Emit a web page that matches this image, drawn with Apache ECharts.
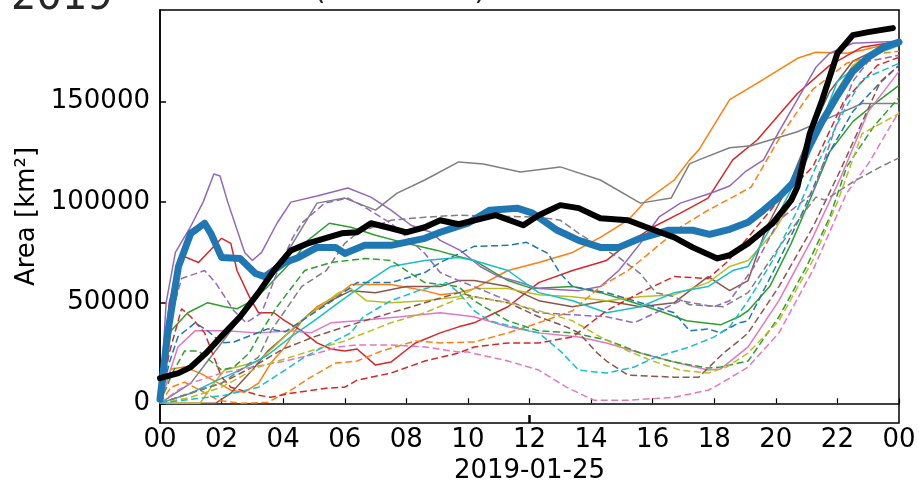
<!DOCTYPE html>
<html>
<head>
<meta charset="utf-8">
<script src="https://cdn.jsdelivr.net/npm/echarts@6/dist/echarts.min.js"></script>
<style>
html,body{margin:0;padding:0;background:#fff;}
#chart{width:919px;height:481px;}
</style>
</head>
<body>
<div id="chart"></div>
<script>
// ---- tick labels / axis ----
const yTickValues = [0, 50000, 100000, 150000];
const xTickHours = [0, 2, 4, 6, 8, 10, 12, 14, 16, 18, 20, 22, 24];
const xAxisDate = '2019-01-25';
const yAxisName = 'Area [km²]';
const titleYear = '2019';
const titleRest = '(Total Area)';

// ---- thick lines: [hour, area km2] ----
const blackThick = [[0,12500],[0.6,15000],[1,18000],[1.5,25000],[2.1,35000],[2.6,43000],[3.2,55000],[3.7,66000],[4.25,76000],[4.8,79500],[5.9,84500],[6.4,85000],[6.85,89500],[7.5,87000],[8,85000],[8.6,87500],[9.1,91000],[9.7,89000],[10.9,93500],[11.8,88500],[12.3,93500],[13,98500],[13.6,97000],[14.3,92000],[15.2,91000],[15.8,87500],[16.7,82500],[17.3,77500],[18.1,72000],[18.5,73600],[19.1,79500],[19.9,89500],[20.5,101000],[20.7,107500],[21.1,134000],[21.5,150500],[22,174000],[22.5,183000],[23,184500],[23.8,186500]];
const blueThick = [[0,2000],[0.25,35000],[0.6,68000],[1,84500],[1.45,89500],[1.65,84500],[2,72500],[2.6,72000],[3.1,64500],[3.4,63000],[4.06,70000],[4.5,72500],[5.1,77500],[5.7,77500],[6,74500],[6.65,78500],[7.5,78500],[8.6,82000],[9.1,85000],[10,89500],[10.7,96000],[11.6,97000],[12.1,94500],[12.9,86000],[13.6,81000],[14.3,77500],[14.9,77500],[15.6,82000],[16.5,86000],[17.3,86000],[17.85,84000],[18.5,86500],[19.1,90000],[19.6,96000],[20.1,102500],[20.55,109500],[21,125000],[21.5,140000],[22,153000],[22.5,165000],[23,172000],[23.5,177000],[24,179500]];

// ---- ensemble members, solid ----
const orangeSolid = [[0,0],[0.36,17000],[0.8,18000],[1.3,15000],[1.9,10000],[2.3,6500],[2.75,5500],[3.2,10000],[3.6,20000],[4.06,28000],[4.6,41000],[5.1,48000],[5.8,54000],[6.2,59000],[7.5,59000],[8.6,56000],[9.1,54000],[9.7,55000],[10.2,57000],[11.3,66000],[12.3,70000],[13.4,75000],[14.3,82500],[15.2,91000],[15.8,101000],[16.7,111000],[17.2,121000],[17.5,126000],[18.5,151000],[19.6,161000],[20.7,171500],[21.3,174500],[22.3,174000],[22.8,175500],[24,180000]];
const greenSolid = [[0,0],[0.36,36000],[0.9,45000],[1.55,50000],[2.1,48000],[2.5,47000],[3,51000],[3.5,58000],[4.4,72500],[4.8,81000],[5.5,89500],[6.2,87500],[7,83500],[8,79500],[9,76000],[9.7,73000],[10.2,71000],[11.3,61000],[12.1,57000],[13.4,58000],[14.3,55000],[15.2,51000],[16.2,46000],[17.1,41000],[18.2,39000],[18.8,43000],[19.1,46000],[19.8,58000],[20.5,79500],[21.2,104500],[21.75,125000],[22.5,140000],[23.3,150000],[24,158000]];
const redSolid = [[0,0],[0.3,50000],[0.7,73500],[1.25,70000],[2,82000],[2.3,79500],[2.5,66000],[2.9,53000],[3.2,45000],[3.7,45000],[4.06,41000],[4.6,36000],[5.1,30000],[5.55,27000],[6,26000],[6.4,27000],[7,19000],[7.5,20500],[8,26500],[8.3,30000],[9.1,35000],[9.7,38000],[10.2,40000],[11.3,48000],[12.3,60000],[13.4,66000],[14.5,71000],[15.2,79500],[16,87500],[16.9,94500],[17.8,102000],[18.6,121000],[19.4,131000],[20.7,154000],[21.75,168000],[22.8,177000],[24,180000]];
const purpleSolid = [[0,0],[0.2,50000],[0.5,75000],[1,88000],[1.4,100000],[1.75,114000],[1.95,113000],[2.2,100000],[2.75,75000],[3,71000],[3.3,75000],[3.8,89500],[4.25,100000],[5.1,103000],[6.1,107000],[6.85,102500],[7.5,96000],[8.15,88500],[8.8,85000],[9.1,81000],[9.75,76000],[10.4,68000],[11,63000],[11.7,60000],[12.3,57000],[13.6,56000],[14.3,58000],[14.9,66000],[15.6,79500],[16.2,92500],[16.9,99500],[17.9,104500],[18.5,108000],[19,115000],[19.6,121000],[20.1,135000],[20.7,151000],[21.3,167000],[21.75,174000],[22.5,179000],[24,180000]];
const brownSolid = [[0,0],[1.8,0],[2.3,5000],[3,16500],[3.5,26000],[4.25,36000],[4.9,45000],[5.55,51000],[6.2,56000],[7,55000],[8,58000],[9.1,58000],[9.7,61000],[10.2,61000],[11.3,58000],[12.3,51000],[13.4,48000],[14.5,51000],[15.6,48000],[16.7,50000],[17.8,63000],[18.5,56000],[19.1,61000],[19.7,87500],[20.5,111000],[21,130000],[21.75,155000],[22.5,170000],[23.3,176000],[24,178000]];
const pinkSolid = [[0,0],[0.58,28000],[1.14,36000],[2.1,36000],[3.2,35000],[4.25,36000],[4.9,35000],[5.55,40000],[6.4,41000],[7.8,43000],[9.1,45000],[10.2,43000],[11.3,38000],[12.3,35000],[13.6,33000],[14.5,30000],[15.6,25000],[16.7,20500],[17.8,16500],[18.2,17000],[19.1,28000],[20.1,51000],[21.2,82500],[22.1,112000],[23,145000],[24,165000]];
const graySolid = [[0,0],[1,10000],[1.5,20000],[2,30000],[2.5,40000],[3,50000],[3.5,63000],[4.25,78000],[5.1,99500],[6,102000],[7,96000],[7.7,104500],[8.6,111000],[9.7,120000],[10.5,119000],[11.7,115000],[13,117500],[14.3,111000],[15.6,99500],[16.6,102000],[17.2,119000],[17.5,121000],[18.5,127000],[19.2,128000],[20.7,135000],[21.75,142000],[22.8,149000],[24,149000]];
const oliveSolid = [[0,0],[1.3,0],[1.8,11000],[2.1,16500],[2.5,18000],[3.2,21000],[3.7,28000],[4.5,40000],[5.8,55000],[6.2,57000],[6.7,51000],[7.5,50000],[8.6,51000],[9.7,53000],[10.2,57000],[11.3,57000],[12.3,54000],[13.4,53000],[14.5,51000],[15.6,53000],[16.7,54000],[17.8,60000],[18.5,68000],[19.1,71000],[19.9,84500],[20.5,99500],[21,121000],[21.75,150000],[22.5,168000],[23.3,176000],[24,179000]];
const cyanSolid = [[0,0],[0.3,1500],[1,5000],[1.8,11000],[2.6,16500],[3.5,24000],[4.25,33000],[5,41000],[5.8,50000],[6.7,60000],[7.5,68000],[8.6,71000],[9.7,72500],[10.2,71000],[11.3,66000],[12.3,55000],[13.4,51000],[14.5,45000],[15.6,48000],[16.7,55000],[17.8,58000],[18.6,66000],[19.1,68000],[20.1,94500],[21,121000],[22,160000],[23,172000],[24,178000]];

// ---- ensemble members, dashed ----
const blueDashed = [[0,0],[0.3,20000],[0.58,33000],[1.14,40000],[1.55,36000],[2,30000],[2.4,30500],[3,34000],[3.5,37000],[4.06,35500],[4.5,40000],[5.6,51000],[6.4,60000],[7.5,60000],[8.6,65000],[9.1,70000],[10.2,78000],[11.3,78500],[11.9,80000],[12.6,74500],[13,64500],[13.4,58000],[14.5,55000],[15.6,50000],[16.7,45000],[17.2,36000],[17.8,37000],[18.2,35000],[18.8,40000],[19.1,41000],[20.1,71000],[20.9,96000],[21.6,121000],[22.5,145000],[23.3,158000],[24,168000]];
const orangeDashed = [[0,0],[0.36,8000],[0.8,10500],[1.3,6500],[1.9,1500],[2.6,0],[3.5,500],[4.25,6500],[4.9,13000],[5.7,20000],[6.4,21000],[7.2,26000],[8.3,31000],[9.1,30000],[10.2,30500],[11.3,35000],[12.3,40000],[13.4,46000],[14.3,58000],[15.2,66000],[16,76000],[16.9,87500],[17.8,96000],[18.6,102500],[19.2,107500],[20.2,134000],[21.2,156000],[22.3,169000],[23.4,174000],[24,175000]];
const greenDashed = [[0,0],[0.4,15000],[0.8,26000],[1.25,26000],[2,16500],[2.4,18000],[2.9,25000],[3.3,36000],[3.8,48000],[4.4,60000],[4.7,66000],[5.55,70000],[6.65,72000],[7.5,71000],[8,66000],[8.6,60000],[9.7,58000],[10.2,51000],[11.3,41000],[12.3,36000],[13.4,35000],[14.5,31500],[15.6,25000],[16.7,20500],[17.8,17500],[18.2,18000],[19.1,21000],[20.1,43000],[21,68000],[21.75,92500],[22.3,117500],[23.2,138000],[24,152000]];
const redDashed = [[0,0],[0.3,25000],[0.7,47000],[1,43000],[1.45,35000],[1.8,21000],[2,13000],[2.3,8000],[3.2,4000],[3.6,3000],[4.25,5000],[5.4,7500],[6,8000],[6.4,11500],[7.5,15000],[8.6,21000],[9.7,25000],[10.2,28000],[11.3,30000],[12.3,30000],[13.4,33000],[14.5,46000],[15.6,55000],[16.7,63000],[17.8,62000],[18.4,70000],[19.1,82500],[20.1,101000],[21.2,117500],[22.2,150000],[23.3,168000],[24,172000]];
const purpleDashed = [[0,0],[0.3,40000],[0.7,62000],[1.45,66000],[1.8,60000],[2.1,53000],[2.4,46000],[2.8,40000],[3.3,45000],[3.8,65000],[4.3,82000],[4.6,89500],[5.35,99500],[6.1,102000],[6.65,97500],[7.5,89500],[8.6,74500],[9.1,65000],[9.7,61000],[10.2,58000],[11.3,51000],[12.3,45000],[13.4,44000],[14.5,43000],[15.4,40000],[16.1,45000],[16.9,51000],[18,48000],[18.5,51000],[19.3,68000],[20.1,91000],[21.2,104500],[21.5,117500],[22,140000],[22.5,160000],[23,170000],[24,173000]];
const brownDashed = [[0,0],[1,5000],[2,10000],[3,18000],[4,27000],[5,33000],[6,38000],[7.5,45000],[8.6,50000],[9.7,55000],[10.2,53000],[11.3,50000],[12.3,43000],[13.2,38000],[13.6,35000],[14.2,25000],[14.5,21000],[15.2,14000],[16.7,13000],[17.5,13000],[18.3,25000],[18.8,31000],[19.1,35000],[20.1,58000],[21.2,87500],[22.1,116000],[23.4,160000],[24,168000]];
const pinkDashed = [[0,0],[0.58,6500],[1,10000],[2,15000],[3,18000],[4.06,21000],[4.9,24000],[5.8,28000],[6.4,29000],[7.5,29000],[8.6,28000],[9.7,25500],[10,25500],[11.3,21000],[12.3,16500],[13.2,8000],[14.1,1500],[15.2,1500],[16.7,3000],[17.8,6500],[18,8000],[19.1,18000],[20.1,35000],[21.2,66000],[22.3,104500],[23,119000],[24,145000]];
const grayDashed = [[0,0],[1.25,6500],[2,10000],[3.2,23000],[3.6,36000],[4.06,46000],[4.6,58000],[5.4,66000],[6,79500],[6.4,84500],[7.5,91000],[8.6,92500],[9.7,93500],[12.3,92500],[13,91000],[13.6,84500],[14.3,77500],[14.9,72500],[15.6,64500],[16.1,55000],[16.7,53000],[17.2,49000],[18.3,48000],[19.1,55000],[20.1,77500],[20.8,92500],[21.3,102500],[21.6,101000],[22.5,110000],[23.4,117500],[24,122000]];
const oliveDashed = [[0,0],[1,3000],[2,8000],[3.2,18000],[4.25,23000],[5.1,27000],[6,31000],[7.5,40000],[8.6,45000],[9.7,52000],[10.2,53000],[11.3,50000],[12.3,46000],[13.4,41000],[14.3,33000],[15.2,26000],[16,21000],[16.9,16500],[17.8,15000],[18.4,18000],[19.1,25000],[20.1,41000],[21.2,71000],[22,100000],[22.8,134000],[24,144000]];
const cyanDashed = [[0,0],[1,2000],[2.1,4000],[3.2,8000],[4.06,16500],[4.7,23000],[5.55,30000],[6.2,35000],[6.6,43000],[7.5,51000],[8.4,56000],[9.3,60000],[9.7,55000],[10.2,46000],[10.7,41000],[11.5,38000],[12.3,35000],[13,26000],[13.6,16500],[14.5,15000],[15.4,18000],[16.1,23000],[17.2,28000],[18,33000],[18.5,38000],[19.1,51000],[19.9,71000],[20.7,96000],[21.3,117500],[22.2,145000],[22.8,161000],[24,169000]];

// ---- styling (kept separate from data) ----
const C = {blue:'#1f77b4', orange:'#ff7f0e', green:'#2ca02c', red:'#d62728', purple:'#9467bd',
           brown:'#8c564b', pink:'#e377c2', gray:'#7f7f7f', olive:'#bcbd22', cyan:'#17becf'};
const members = [
  [orangeSolid, C.orange, false], [greenSolid, C.green, false], [redSolid, C.red, false],
  [purpleSolid, C.purple, false], [brownSolid, C.brown, false], [pinkSolid, C.pink, false],
  [graySolid, C.gray, false], [oliveSolid, C.olive, false], [cyanSolid, C.cyan, false],
  [blueDashed, C.blue, true], [orangeDashed, C.orange, true], [greenDashed, C.green, true],
  [redDashed, C.red, true], [purpleDashed, C.purple, true], [brownDashed, C.brown, true],
  [pinkDashed, C.pink, true], [grayDashed, C.gray, true], [oliveDashed, C.olive, true],
  [cyanDashed, C.cyan, true]
];

const FONT = 'DejaVu Sans';
const series = members.map(([d, col, dashed]) => ({
  type: 'line', data: d, showSymbol: false, silent: true, z: 2,
  lineStyle: {color: col, width: 1.5, type: dashed ? [7, 3.5] : 'solid'}
}));
series.push({type:'line', data: blueThick, showSymbol:false, silent:true, z:3,
  lineStyle:{color: C.blue, width: 7, cap:'round', join:'round'}});
series.push({type:'line', data: blackThick, showSymbol:false, silent:true, z:4,
  lineStyle:{color:'#000', width: 6, cap:'round', join:'round'}});

const chart = echarts.init(document.getElementById('chart'), null, {renderer:'canvas'});
chart.setOption({
  animation: false,
  backgroundColor: '#fff',
  title: [
    {text: titleYear, left: 6, top: -26, textStyle:{fontFamily: FONT, fontSize: 40, fontWeight:'normal', color:'#262626'}},
    {text: titleRest, left: 309, top: -29, textStyle:{fontFamily: FONT, fontSize: 30, fontWeight:'normal', color:'#262626'}}
  ],
  grid: {left: 160, right: 20, top: 10, bottom: 58, outerBoundsMode: 'none', containLabel: false,
         show: true, borderColor:'#000', borderWidth: 1.5, backgroundColor:'transparent'},
  xAxis: [{
    type: 'value', min: 0, max: 24, interval: 2,
    name: xAxisDate, nameLocation: 'middle', nameGap: 33,
    nameTextStyle: {fontFamily: FONT, fontSize: 26, color:'#000'},
    axisLine: {show: true, lineStyle:{color:'#000', width: 1.5}},
    axisTick: {show: true, inside: true, length: 5, lineStyle:{color:'#000', width: 1.2}, customValues: xTickHours},
    axisLabel: {fontFamily: FONT, fontSize: 26, color:'#000', margin: 4, customValues: xTickHours,
      formatter: v => String(v % 24).padStart(2, '0')},
    splitLine: {show: false}
  }, {
    type: 'value', min: 0, max: 24, position: 'bottom',
    axisLine: {show: false},
    axisTick: {show: true, inside: true, length: 8, lineStyle:{color:'#000', width: 2.5}, customValues: [12]},
    axisLabel: {show: false},
    splitLine: {show: false}
  }],
  yAxis: {
    type: 'value', min: -9800, max: 195500,
    name: yAxisName, nameLocation: 'middle', nameGap: 110,
    nameTextStyle: {fontFamily: FONT, fontSize: 26, color:'#000'},
    axisLine: {show: true, lineStyle:{color:'#000', width: 1.5}},
    axisTick: {show: true, inside: true, length: 6, lineStyle:{color:'#000', width: 1.5}, customValues: yTickValues},
    axisLabel: {fontFamily: FONT, fontSize: 26, color:'#000', margin: 10, customValues: yTickValues,
      formatter: v => String(v)},
    splitLine: {show: false}
  },
  series: series
});
</script>
</body>
</html>
